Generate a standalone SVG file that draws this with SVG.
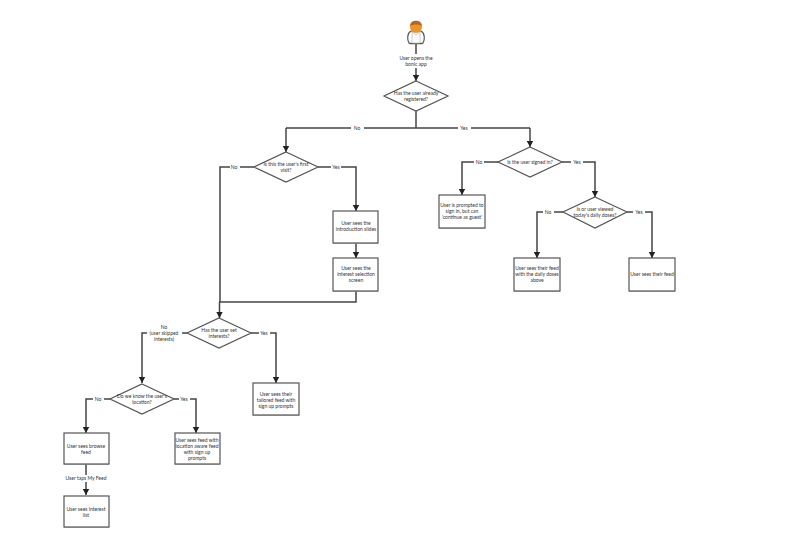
<svg xmlns="http://www.w3.org/2000/svg" width="800" height="558" viewBox="0 0 800 558">
<style>
text{font-family:Lato,"Liberation Sans",sans-serif;font-size:5px;fill:#333;text-anchor:middle}
.n{fill:#fff;stroke:#555;stroke-width:1.2}
.c{fill:none;stroke:#444;stroke-width:1.5}
.a{fill:none;stroke:#444;stroke-width:1.5;marker-end:url(#ar)}
.l{stroke:none;fill:#fff}
.s{fill:#777;opacity:.7}
</style>
<defs><marker id="ar" markerUnits="userSpaceOnUse" markerWidth="7" markerHeight="7" refX="6" refY="3.5" orient="auto"><path d="M0 0.3L6 3.500L0 6.700Z" fill="#222"/></marker></defs>
<rect width="800" height="558" fill="#fff"/>
<g id="connectors">
<path class="a" d="M416 44V81"/>
<path class="c" d="M416 111V128M286 128H530"/>
<path class="a" d="M286 128V152"/>
<path class="a" d="M530 128V147"/>
<path class="c" d="M254 167H220V302"/>
<path class="a" d="M219.500 302V318"/>
<path class="a" d="M318 167H356V211"/>
<path class="a" d="M356 243V258"/>
<path class="c" d="M356 291V302H219"/>
<path class="a" d="M187 333H142V383"/>
<path class="a" d="M251 333H276V383"/>
<path class="a" d="M110 399H86V433"/>
<path class="a" d="M174 399H196V433"/>
<path class="a" d="M86 464V495"/>
<path class="a" d="M498 162H462V195"/>
<path class="a" d="M562 162H595V197"/>
<path class="a" d="M563 212H537V258"/>
<path class="a" d="M627 212H652V258"/>
<g id="edge-labels">
<rect class="l" x="351" y="124" width="13" height="8"/><text x="357" y="130">No</text>
<rect class="l" x="458" y="124" width="13" height="8"/><text x="464" y="130">Yes</text>
<rect class="l" x="230" y="163" width="10" height="8"/><text x="234" y="169">No</text>
<rect class="l" x="331" y="163" width="10" height="8"/><text x="336" y="169">Yes</text>
<rect class="l" x="147" y="324" width="35" height="20"/><text x="164" y="329">No</text><text x="164" y="335">(user skipped</text><text x="164" y="341">interests)</text>
<rect class="l" x="259" y="329" width="11" height="8"/><text x="264" y="335">Yes</text>
<rect class="l" x="93" y="395" width="11" height="8"/><text x="98" y="401">No</text>
<rect class="l" x="179" y="395" width="11" height="8"/><text x="184" y="401">Yes</text>
<rect class="l" x="66" y="475" width="40" height="7"/><text x="86" y="480">User taps My Feed</text>
<rect class="l" x="474" y="158" width="10" height="8"/><text x="479" y="164">No</text>
<rect class="l" x="571" y="158" width="12" height="8"/><text x="577" y="164">Yes</text>
<rect class="l" x="543" y="209" width="11" height="8"/><text x="548" y="214">No</text>
<rect class="l" x="633" y="209" width="12" height="8"/><text x="639" y="214">Yes</text>
</g>
</g>
<g id="user">
<path d="M409 43c-2-3-2-10 2-12h10c4 2 4 9 2 12c-1 1-13 1-14 0Z" fill="#fff" stroke="#555" stroke-width="1.2"/>
<path d="M412 32l4 3l4-3v11h-8Z" fill="#fff" stroke="#999" stroke-width=".5"/>
<circle cx="416" cy="27" r="6" fill="#e8952f"/>
<path d="M410 26c0-7 12-7 12 0c-2-2-10-2-12 0Z" fill="#b5651d"/>
</g>
<g id="n-open"><rect class="l" x="398" y="54" width="36" height="14"/><text x="416" y="59.500">User opens the</text><text x="416" y="65.500">bonic app</text></g>
<g id="d-registered"><path class="n" d="M416 81L448 96L416 111L384 96Z"/><text x="416" y="95">Has the user already</text><text x="416" y="101">registered?</text></g>
<g id="d-first"><path class="n" d="M286 152L318 167L286 182L254 167Z"/><text x="286" y="166">Is this the user's first</text><text x="286" y="172">visit?</text></g>
<g id="n-intro"><rect class="n" x="333" y="211" width="45" height="32"/><path class="s" d="M333 243h45v1h-45Z"/><text x="356" y="225">User sees the</text><text x="356" y="231">introduction slides</text></g>
<g id="n-interest"><rect class="n" x="333" y="258" width="45" height="33"/><path class="s" d="M333 291h45v1h-45Z"/><text x="356" y="270">User sees the</text><text x="356" y="276">interest selection</text><text x="356" y="282">screen</text></g>
<g id="d-interests"><path class="n" d="M219 318L251 333L219 348L187 333Z"/><text x="219" y="332">Has the user set</text><text x="219" y="338">interests?</text></g>
<g id="n-tailored"><rect class="n" x="253" y="383" width="46" height="32"/><path class="s" d="M253 415h46v1h-46Z"/><text x="276" y="396">User sees their</text><text x="276" y="402">tailored feed with</text><text x="276" y="408">sign up prompts</text></g>
<g id="d-location"><path class="n" d="M142 384L174 399L142 414L110 399Z"/><text x="142" y="398">Do we know the user's</text><text x="142" y="404">location?</text></g>
<g id="n-browse"><rect class="n" x="64" y="433" width="45" height="31"/><path class="s" d="M64 464h45v1h-45Z"/><text x="86" y="448">User sees browse</text><text x="86" y="454">feed</text></g>
<g id="n-list"><rect class="n" x="64" y="496" width="45" height="31"/><path class="s" d="M64 527h45v1h-45Z"/><text x="86" y="511">User sees interest</text><text x="86" y="517">list</text></g>
<g id="n-location"><rect class="n" x="175" y="433" width="45" height="31"/><path class="s" d="M175 464h45v1h-45Z"/><text x="197" y="442">User sees feed with</text><text x="197" y="448">location aware feed</text><text x="197" y="454">with sign up</text><text x="197" y="460">prompts</text></g>
<g id="d-signed"><path class="n" d="M530 147L562 162L530 177L498 162Z"/><text x="530" y="164">Is the user signed in?</text></g>
<g id="n-prompt"><rect class="n" x="439" y="195" width="46" height="33"/><path class="s" d="M439 228h46v1h-46Z"/><text x="462" y="207">User is prompted to</text><text x="462" y="213">sign in, but can</text><text x="462" y="219">'continue as guest'</text></g>
<g id="d-dose"><path class="n" d="M595 197L627 212L595 228L563 212Z"/><text x="595" y="211">Is or user viewed</text><text x="595" y="217">today's daily doses?</text></g>
<g id="n-doses"><rect class="n" x="514" y="258" width="46" height="33"/><path class="s" d="M514 291h46v1h-46Z"/><text x="537" y="270">User sees their feed</text><text x="537" y="276">with the daily doses</text><text x="537" y="282">above</text></g>
<g id="n-feed"><rect class="n" x="629" y="258" width="46" height="33"/><path class="s" d="M629 291h46v1h-46Z"/><text x="652" y="276">User sees their feed</text></g>
</svg>
